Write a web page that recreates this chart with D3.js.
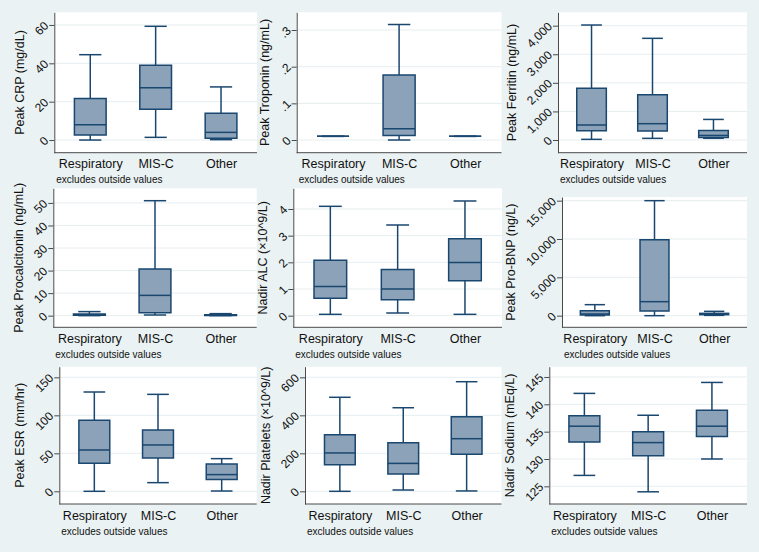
<!DOCTYPE html>
<html><head><meta charset="utf-8">
<script src="https://cdn.jsdelivr.net/npm/d3@7/dist/d3.min.js"></script>
<style>
body{margin:0;background:#eaf2f3;}
svg{display:block;font-family:"Liberation Sans",Arial,Helvetica,sans-serif;}
</style>
</head><body>
<svg id="chart" width="759" height="552"></svg>
<script>
// ---------------- DATA ----------------
const categories = ["Respiratory", "MIS-C", "Other"];
// each row: [lower whisker, Q1, median, Q3, upper whisker] per category
const crpStats        = [[0, 2.6, 8, 21.7, 44.5], [1.4, 16, 27.3, 39, 59.3], [0.2, 0.9, 4, 14, 27.7]];
const troponinStats   = [[0.01, 0.01, 0.01, 0.01, 0.01], [0, 0.012, 0.031, 0.177, 0.315], [0.01, 0.01, 0.01, 0.01, 0.01]];
const ferritinStats   = [[23, 327, 525, 1808, 4023], [58, 315, 571, 1586, 3557], [60, 90, 160, 335, 720]];
const pctStats        = [[0.02, 0.15, 0.4, 0.75, 1.8], [0.3, 1.3, 9, 20.7, 51], [0.02, 0.08, 0.15, 0.4, 0.9]];
const alcStats        = [[0.05, 0.65, 1.09, 2.08, 4.1], [0.1, 0.6, 1.0, 1.73, 3.4], [0.05, 1.31, 1.99, 2.88, 4.3]];
const bnpStats        = [[0, 87, 217, 650, 1435], [0, 609, 1826, 9900, 15000], [40, 130, 217, 304, 565]];
const esrStats        = [[0, 37, 54.4, 93.4, 130.7], [11.4, 43.9, 61, 80.7, 127.6], [0.4, 15.4, 22, 36, 43]];
const plateletStats   = [[0, 140, 202, 298, 495], [7, 91, 147, 256, 440], [2, 195, 277, 393, 577]];
const sodiumStats     = [[127, 133.1, 136, 137.9, 142], [124, 130.6, 133, 135, 138], [130, 134.1, 136, 138.9, 144]];

const crpTicks = [0, 20, 40, 60];              const crpTickLabels = ["0", "20", "40", "60"];
const troponinTicks = [0, 0.1, 0.2, 0.3];      const troponinTickLabels = ["0", ".1", ".2", ".3"];
const ferritinTicks = [0, 1000, 2000, 3000, 4000]; const ferritinTickLabels = ["0", "1,000", "2,000", "3,000", "4,000"];
const pctTicks = [0, 10, 20, 30, 40, 50];      const pctTickLabels = ["0", "10", "20", "30", "40", "50"];
const alcTicks = [0, 1, 2, 3, 4];              const alcTickLabels = ["0", "1", "2", "3", "4"];
const bnpTicks = [0, 5000, 10000, 15000];      const bnpTickLabels = ["0", "5,000", "10,000", "15,000"];
const esrTicks = [0, 50, 100, 150];            const esrTickLabels = ["0", "50", "100", "150"];
const plateletTicks = [0, 200, 400, 600];      const plateletTickLabels = ["0", "200", "400", "600"];
const sodiumTicks = [125, 130, 135, 140, 145]; const sodiumTickLabels = ["125", "130", "135", "140", "145"];

const titles = ["Peak CRP (mg/dL)", "Peak Troponin (ng/mL)", "Peak Ferritin (ng/mL)",
                "Peak Procalcitonin (ng/mL)", "Nadir ALC (\u00d710^9/L)", "Peak Pro-BNP (ng/L)",
                "Peak ESR (mm/hr)", "Nadir Platelets (\u00d710^9/L)", "Nadir Sodium (mEq/L)"];
const noteText = "excludes outside values";

// ---------------- LAYOUT (plot regions & axis ranges) ----------------
const layout = [
  {box: [54.3, 12.3, 257, 152.7],   domain: [-6.6, 66.6]},
  {box: [296.7, 12.3, 501.5, 152.7], domain: [-0.0346, 0.3483]},
  {box: [558, 12.3, 747, 152.7],    domain: [-444, 4468]},
  {box: [53.3, 188.3, 256.7, 327.3], domain: [-5.16, 56.5]},
  {box: [293.3, 188.3, 502, 327.3], domain: [-0.436, 4.776]},
  {box: [562, 197, 747, 327.3],     domain: [-1517, 15478]},
  {box: [59.3, 366.7, 256.7, 504],  domain: [-16.7, 164]},
  {box: [305, 366.7, 501.5, 504],   domain: [-66.7, 656]},
  {box: [549.3, 366.7, 747, 504],   domain: [121.77, 146.88]}
];

const statsList = [crpStats, troponinStats, ferritinStats, pctStats, alcStats, bnpStats, esrStats, plateletStats, sodiumStats];
const ticksList = [crpTicks, troponinTicks, ferritinTicks, pctTicks, alcTicks, bnpTicks, esrTicks, plateletTicks, sodiumTicks];
const tickLabelList = [crpTickLabels, troponinTickLabels, ferritinTickLabels, pctTickLabels, alcTickLabels, bnpTickLabels, esrTickLabels, plateletTickLabels, sodiumTickLabels];

// ---------------- STYLE ----------------
const BG = "#eaf2f3", GRID = "#e6eef0", NAVY = "#1a476f", FILL = "#8ba2b8", AXIS = "#4a4a4a", TEXT = "#111";

const svg = d3.select("#chart");
svg.append("rect").attr("width", 759).attr("height", 552).attr("fill", BG);

statsList.forEach((stats, p) => {
  const [L, T, R, B] = layout[p].box;
  const g = svg.append("g");
  const y = d3.scaleLinear().domain(layout[p].domain).range([B, T]);
  const x = d3.scalePoint().domain(categories).range([L, R]).padding(0.55);
  const step = x.step();
  const bw = step * 0.485, cw = step * 0.34;

  g.append("rect").attr("x", L).attr("y", T).attr("width", R - L).attr("height", B - T).attr("fill", "#fff");

  // gridlines
  g.append("g").selectAll("line").data(ticksList[p]).join("line")
    .attr("x1", L).attr("x2", R).attr("y1", d => y(d)).attr("y2", d => y(d))
    .attr("stroke", GRID).attr("stroke-width", 1);

  // boxes
  const bg = g.append("g").attr("stroke", NAVY).attr("stroke-width", 1.5).attr("fill", "none");
  stats.forEach((s, i) => {
    const cx = x(categories[i]);
    const [lo, q1, md, q3, hi] = s;
    bg.append("line").attr("x1", cx).attr("x2", cx).attr("y1", y(q1)).attr("y2", y(lo));
    bg.append("line").attr("x1", cx).attr("x2", cx).attr("y1", y(q3)).attr("y2", y(hi));
    bg.append("line").attr("x1", cx - cw / 2).attr("x2", cx + cw / 2).attr("y1", y(lo)).attr("y2", y(lo));
    bg.append("line").attr("x1", cx - cw / 2).attr("x2", cx + cw / 2).attr("y1", y(hi)).attr("y2", y(hi));
    bg.append("path")
      .attr("d", `M${cx - bw / 2},${y(q3)}H${cx + bw / 2}V${y(q1)}H${cx - bw / 2}Z`)
      .attr("fill", FILL);
    bg.append("line").attr("x1", cx - bw / 2).attr("x2", cx + bw / 2).attr("y1", y(md)).attr("y2", y(md));
  });

  // y axis
  const labels = tickLabelList[p];
  const ya = g.append("g").attr("transform", `translate(${L},0)`)
    .call(d3.axisLeft(y).tickValues(ticksList[p]).tickFormat((d, i) => labels[i]).tickSize(5).tickSizeOuter(0));
  ya.select(".domain").attr("stroke", AXIS);
  ya.selectAll(".tick line").attr("stroke", AXIS);
  let maxLen = 0;
  ya.selectAll(".tick text")
    .attr("x", 0).attr("dy", null).attr("text-anchor", "end")
    .attr("transform", "translate(-5,1) rotate(-45)")
    .attr("font-size", 12).attr("font-family", null).attr("fill", TEXT)
    .each(function () { maxLen = Math.max(maxLen, this.getComputedTextLength()); });
  const labelsLeft = L - 5 - 0.707 * (maxLen + 8.6);

  // x axis
  const xa = g.append("g").attr("transform", `translate(0,${B})`)
    .call(d3.axisBottom(x).tickSize(0).tickSizeOuter(0));
  xa.select(".domain").attr("stroke", AXIS).attr("d", `M${L},0H${R}`);
  xa.selectAll(".tick text").attr("y", 15.5).attr("dy", null)
    .attr("font-size", 12.5).attr("font-family", null).attr("fill", TEXT);

  // y title
  g.append("text")
    .attr("transform", `translate(${labelsLeft - 10},${(T + B) / 2}) rotate(-90)`)
    .attr("text-anchor", "middle").attr("font-size", 12.5).attr("fill", TEXT)
    .text(titles[p]);

  // note
  g.append("text").attr("x", L + 2).attr("y", B + 30.5)
    .attr("font-size", 10).attr("fill", TEXT).text(noteText);
});
</script>
</body></html>
